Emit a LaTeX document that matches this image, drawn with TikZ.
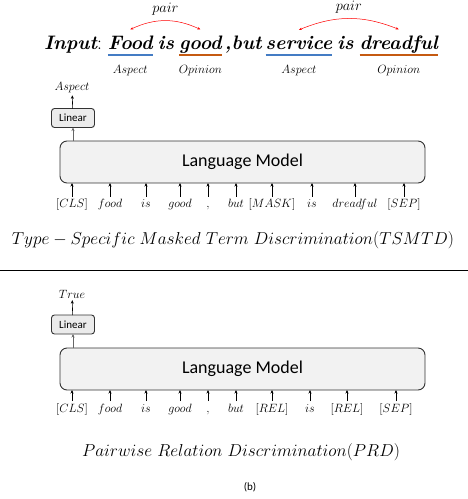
\documentclass[tikz,border=0pt]{standalone}
\usepackage{fontspec}
\newfontfamily\calibri{Carlito}
\usetikzlibrary{positioning,arrows.meta}
\definecolor{aspblue}{RGB}{68,124,196}
\definecolor{opnorange}{RGB}{197,90,17}
\begin{document}
\begin{tikzpicture}[x=1pt, y=-1pt,
    every node/.style={inner sep=0pt, outer sep=0pt},
    word/.style={anchor=base west, font=\fontsize{19.5}{22}\selectfont\bfseries\itshape},
    tag/.style={font=\fontsize{12}{13}\selectfont},
    tok/.style={anchor=base, font=\fontsize{12}{13}\selectfont, text height=9pt, text depth=3pt},
    lmbox/.style={draw=black!80, fill=black!5, rounded corners=7pt, line width=0.9pt, minimum width=365pt, minimum height=42pt, font=\calibri\fontsize{18}{20}\selectfont},
    linbox/.style={draw=black!80, fill=black!8, rounded corners=3pt, line width=0.9pt, minimum width=43pt, minimum height=19pt, font=\calibri\fontsize{11}{12}\selectfont},
    up/.style={-{Stealth[length=3.5pt, width=3pt]}, line width=0.6pt},
    pairarc/.style={red, line width=0.5pt, {Stealth[length=3pt, width=2.5pt]}-{Stealth[length=3pt, width=2.5pt]}},
    underl/.style={line width=1.1pt},
    title/.style={font=\fontsize{17}{20}\selectfont}]
\useasboundingbox (0,0) rectangle (468,499);

% Input sentence
\node[word] (w-inp) at (44,49) {Input{\normalfont:}};
\node[word, right=6pt of w-inp.base east, anchor=base west] (w-food) {Food};
\node[word, right=5pt of w-food.base east, anchor=base west] (w-is1) {is};
\node[word, right=5pt of w-is1.base east, anchor=base west] (w-good) {good};
\node[word, right=3pt of w-good.base east, anchor=base west] (w-but) {,but};
\node[word, right=4pt of w-but.base east, anchor=base west] (w-serv) {service};
\node[word, right=5pt of w-serv.base east, anchor=base west] (w-is2) {is};
\node[word, right=6pt of w-is2.base east, anchor=base west] (w-dread) {dreadful};

% underlines and term types
\draw[underl, aspblue] ([yshift=-6pt]w-food.base west) -- ([yshift=-6pt]w-food.base east);
\draw[underl, opnorange] ([yshift=-6pt]w-good.base west) -- ([yshift=-6pt]w-good.base east);
\draw[underl, aspblue] ([yshift=-6pt]w-serv.base west) -- ([yshift=-6pt]w-serv.base east);
\draw[underl, opnorange] ([yshift=-6pt]w-dread.base west) -- ([yshift=-6pt]w-dread.base east);
\node[tag, anchor=base] (ty-1) at ([yshift=-24pt]w-food.base) {$Aspect$};
\node[tag, anchor=base] (ty-2) at ([yshift=-24pt]w-good.base) {$Opinion$};
\node[tag, anchor=base] (ty-3) at ([yshift=-24pt]w-serv.base) {$Aspect$};
\node[tag, anchor=base] (ty-4) at ([yshift=-24pt]w-dread.base) {$Opinion$};

% pairs
\draw[pairarc] ([yshift=6pt]w-food.north) to[bend left=25] coordinate[pos=.5] (pa-1) ([yshift=6pt]w-good.north);
\draw[pairarc] ([yshift=6pt]w-serv.north) to[bend left=22] coordinate[pos=.5] (pa-2) ([yshift=6pt]w-dread.north);
\node[title, font=\fontsize{14}{16}\selectfont, above=5pt of pa-1] (pl-1) {$pair$};
\node[title, font=\fontsize{14}{16}\selectfont, above=5pt of pa-2] (pl-2) {$pair$};

% TSMTD
\node[tag] (out1) at (72,88) {$Aspect$};
\node[linbox] (lin1) at (73,118) {Linear};
\node[lmbox] (lm1) at (242.5,162) {Language Model};
\draw[up, black!60] (lin1.south |- lm1.north) -- (lin1.south);
\draw[up, shorten >=2pt] (lin1) -- (out1);
\foreach \x/\t [count=\i] in {72/[CLS], 110/food, 146/is, 180/good, 208/{,}, 236/but, 272/[MASK], 312/is, 355/dreadful, 404/[SEP]}{
  \node[tok] (t1-\i) at (\x,207) {$\t$};
  \draw[up, shorten <=1.5pt] (t1-\i.north) -- (t1-\i.north |- lm1.south);
}
\node[title] (ttl1) at (233,240) {$Type-Specific\ Masked\ Term\ Discrimination(TSMTD)$};

\draw[line width=0.9pt] (0,270) -- (468,270);

% PRD
\node[tag] (out2) at (72,294) {$True$};
\node[linbox] (lin2) at (73,324.5) {Linear};
\node[lmbox] (lm2) at (242.5,369) {Language Model};
\draw[up, black!60] (lin2.south |- lm2.north) -- (lin2.south);
\draw[up, shorten >=2pt] (lin2) -- (out2);
\foreach \x/\t [count=\i] in {72/[CLS], 110/food, 146/is, 180/good, 208/{,}, 236/but, 272/[REL], 310/is, 347/[REL], 396/[SEP]}{
  \node[tok] (t2-\i) at (\x,412) {$\t$};
  \draw[up, shorten <=2pt] (t2-\i.north) -- (t2-\i.north |- lm2.south);
}
\node[title] (ttl2) at (241,452) {$Pairwise\ Relation\ Discrimination(PRD)$};

\node[font=\calibri\fontsize{11}{12}\selectfont] (cap) at (250,487) {(b)};
\end{tikzpicture}
\end{document}
